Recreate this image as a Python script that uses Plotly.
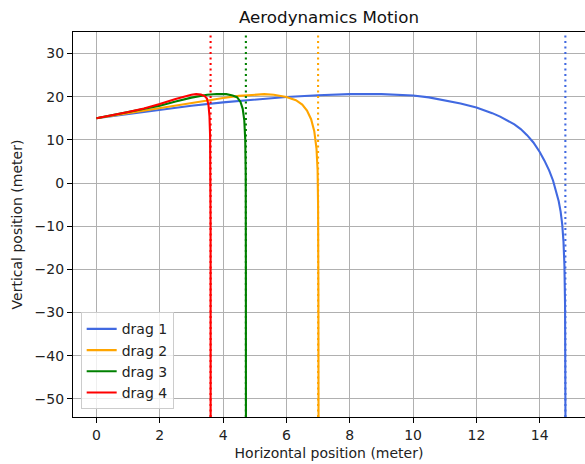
import plotly.graph_objects as go

# ---- data ----
drag1_x = [0, 1, 2, 3, 4, 5, 6, 7, 8, 9, 10, 10.5, 11, 11.5, 12, 12.25, 12.5, 12.75, 13.0, 13.2, 13.4, 13.6, 13.8, 14.0, 14.15, 14.3, 14.42, 14.52, 14.6, 14.66, 14.71, 14.75, 14.78, 14.80, 14.81, 14.815]
drag1_y = [15, 16.0, 17.0, 17.9, 18.7, 19.4, 19.95, 20.35, 20.6, 20.6, 20.3, 19.85, 19.2, 18.45, 17.5, 16.9, 16.2, 15.4, 14.5, 13.6, 12.5, 11.1, 9.4, 7.2, 5.2, 2.9, 0.6, -1.8, -4.2, -6.6, -9.5, -13.5, -19, -28, -42, -60]

drag2_x = [0, 0.5, 1, 1.5, 2, 2.5, 3, 3.5, 4, 4.5, 5, 5.3, 5.6, 6.0, 6.3, 6.5, 6.65, 6.78, 6.88, 6.95, 6.985, 7.0, 7.01, 7.015]
drag2_y = [15, 15.6, 16.2, 16.85, 17.45, 18.0, 18.55, 19.1, 19.7, 20.2, 20.55, 20.6, 20.45, 19.95, 19.2, 18.2, 16.8, 14.8, 12.0, 8.0, 3.0, -5.0, -25, -60]

drag3_x = [0, 0.5, 1, 1.5, 2, 2.5, 3, 3.5, 3.8, 4.1, 4.3, 4.44, 4.55, 4.62, 4.67, 4.70, 4.715, 4.72, 4.722]
drag3_y = [15, 15.7, 16.4, 17.15, 17.9, 18.9, 19.8, 20.45, 20.65, 20.6, 20.3, 19.9, 18.8, 17.2, 14.5, 10.0, 2.0, -20, -60]

drag4_x = [0, 0.5, 1, 1.5, 2, 2.5, 2.8, 3.0, 3.15, 3.3, 3.42, 3.49, 3.54, 3.57, 3.59, 3.60, 3.605, 3.607]
drag4_y = [15, 15.7, 16.45, 17.3, 18.3, 19.5, 20.1, 20.45, 20.6, 20.5, 20.15, 19.6, 18.0, 15.5, 11.0, 5.0, -10, -60]

landing_x = [14.81, 7.0, 4.72, 3.605]
names = ["drag 1", "drag 2", "drag 3", "drag 4"]
colors = ["#4169E1", "#FFA500", "#008000", "#FF0000"]

xticks = [0, 2, 4, 6, 8, 10, 12, 14]
yticks = [-50, -40, -30, -20, -10, 0, 10, 20, 30]
xrange_ = [-0.74, 15.43]
yrange_ = [-54.2, 35]

FONT = "DejaVu Sans"

fig = go.Figure()
series = [(drag1_x, drag1_y), (drag2_x, drag2_y), (drag3_x, drag3_y), (drag4_x, drag4_y)]
for (xs, ys), name, c in zip(series, names, colors):
    fig.add_trace(go.Scatter(x=xs, y=ys, mode="lines", name=name,
                             line=dict(color=c, width=2.1)))

for xv, c in zip(landing_x, colors):
    fig.add_vline(x=xv, line=dict(color=c, width=2.1, dash="2px,3.5px"))

axis_common = dict(
    showgrid=True, gridcolor="#b0b0b0", gridwidth=1.1,
    showline=True, linecolor="black", linewidth=1.1,
    ticks="outside", ticklen=5, tickwidth=1.1, tickcolor="black",
    tickfont=dict(family=FONT, size=14, color="#222"),
    zeroline=False,
)

fig.update_xaxes(range=xrange_, tickvals=xticks, ticktext=[str(v) for v in xticks],
                 mirror=True,
                 title=dict(text="Horizontal position (meter)", font=dict(family=FONT, size=14, color="#222"), standoff=6),
                 **axis_common)
fig.update_yaxes(range=yrange_, tickvals=yticks, ticktext=[("\u2212" + str(-v)) if v < 0 else str(v) for v in yticks],
                 title=dict(text="Vertical position (meter)", font=dict(family=FONT, size=14, color="#222"), standoff=8),
                 **axis_common)

fig.update_layout(
    width=585, height=464,
    margin=dict(l=73, r=0, t=32, b=47, autoexpand=False),
    paper_bgcolor="white", plot_bgcolor="white",
    title=dict(text="Aerodynamics Motion", x=0.5, xref="paper", xanchor="center",
               y=1 - 17 / 464, yanchor="middle",
               font=dict(family=FONT, size=16.7, color="#111")),
    legend=dict(x=0.015, y=0.02, xanchor="left", yanchor="bottom",
                bgcolor="rgba(255,255,255,0.8)", bordercolor="#cccccc", borderwidth=1,
                font=dict(family=FONT, size=14, color="#222"), itemwidth=30,
                tracegroupgap=3),
    showlegend=True,
)

fig.write_html("out.html", config={"displayModeBar": False},
               post_script="document.body.style.margin='0px';")
